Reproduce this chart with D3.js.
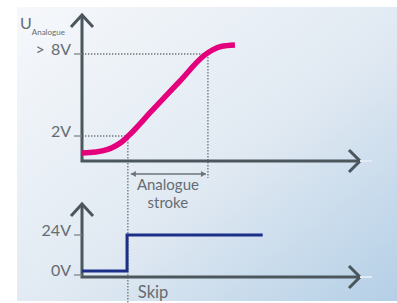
<!DOCTYPE html>
<html>
<head>
<meta charset="utf-8">
<script src="https://cdn.jsdelivr.net/npm/d3@7"></script>
<style>
  html, body { margin: 0; padding: 0; background: #fff; }
  text { font-family: Lato, "Open Sans", sans-serif; fill: #646d72; }
</style>
</head>
<body>
<div id="plot"></div>
<script>
// analogue output (upper plot)
const analogueT = [0, 5, 9, 12, 14.5, 17, 25, 35, 44, 47, 50, 55];
const analogueV = [0.76, 0.83, 1.0, 1.27, 1.6, 2.07, 3.82, 5.97, 7.9, 8.3, 8.55, 8.66];

// switching output (lower plot)
const skipT = [0, 16.2, 65];
const skipV = [0, 24, 24];

// tick labels
const upperTicks = [2, 8];
const upperLabels = ["2V", "> 8V"];
const lowerTicks = [0, 24];
const lowerLabels = ["0V", "24V"];

// where the analogue stroke starts / ends
const strokeStart = 16.5;
const strokeEnd = 45.3;

const width = 397, height = 303;
const axisCol = "#4b565d";

const svg = d3.select("#plot")
  .append("svg")
    .attr("width", width)
    .attr("height", height);

// background panel gradient
const grad = svg.append("defs").append("linearGradient")
    .attr("id", "bg")
    .attr("x1", "0%").attr("y1", "0%")
    .attr("x2", "100%").attr("y2", "100%");
grad.append("stop").attr("offset", "0%").attr("stop-color", "#f6f8fb");
grad.append("stop").attr("offset", "55%").attr("stop-color", "#e0e9f2");
grad.append("stop").attr("offset", "100%").attr("stop-color", "#b4cfe6");

svg.append("rect")
    .attr("x", 17).attr("y", 7)
    .attr("width", width - 17).attr("height", 294)
    .attr("fill", "url(#bg)");

const x = d3.scaleLinear().domain([0, 100]).range([82, 360]);
const yUp = d3.scaleLinear().domain([2, 8]).range([136, 54]);
const yLow = d3.scaleLinear().domain([0, 24]).range([271, 235]);

const upBase = 161, lowBase = 277;
const x0 = x(0), xEnd = x(100);

// dotted guide lines
const dots = svg.append("g")
    .attr("stroke", "#6d757a")
    .attr("stroke-width", 1.3)
    .attr("stroke-dasharray", "1.4,1.6")
    .attr("fill", "none");

dots.append("line")
    .attr("x1", x0).attr("x2", x(strokeStart))
    .attr("y1", yUp(2)).attr("y2", yUp(2));
dots.append("line")
    .attr("x1", x(strokeStart)).attr("x2", x(strokeStart))
    .attr("y1", yUp(2)).attr("y2", 303);
dots.append("line")
    .attr("x1", x0).attr("x2", x(strokeEnd))
    .attr("y1", yUp(8)).attr("y2", yUp(8));
dots.append("line")
    .attr("x1", x(strokeEnd)).attr("x2", x(strokeEnd))
    .attr("y1", yUp(8)).attr("y2", 178);

// axes with arrow heads
function drawAxes(top, base) {
  const g = svg.append("g")
      .attr("fill", "none")
      .attr("stroke", axisCol)
      .attr("stroke-width", 3);
  // faint tail behind the x arrow
  svg.append("line")
      .attr("x1", xEnd).attr("x2", xEnd + 12)
      .attr("y1", base).attr("y2", base)
      .attr("stroke", "#e2eaf1").attr("stroke-width", 2);
  g.append("path")
      .attr("d", "M" + x0 + "," + (top + 1) + "V" + base + "H" + xEnd);
  g.append("path")
      .attr("d", "M" + (x0 - 11) + "," + (top + 12) + "L" + x0 + "," + top + "L" + (x0 + 11) + "," + (top + 12));
  g.append("path")
      .attr("d", "M" + (xEnd - 11) + "," + (base - 11) + "L" + xEnd + "," + base + "L" + (xEnd - 11) + "," + (base + 11));
}
drawAxes(15, upBase);
drawAxes(204, lowBase);

// tick marks + labels
function drawTicks(vals, labels, yPos) {
  vals.forEach(function(v, i) {
    const yy = yPos(v);
    svg.append("line")
        .attr("x1", x0 - 8).attr("x2", x0)
        .attr("y1", yy).attr("y2", yy)
        .attr("stroke", "#7d868b").attr("stroke-width", 1.3);
    svg.append("text")
        .attr("x", x0 - 11).attr("y", yy + 1)
        .attr("text-anchor", "end")
        .style("font-size", "16px")
        .style("word-spacing", "2px")
        .text(labels[i]);
  });
}
drawTicks(upperTicks, upperLabels, yUp);
// the 0V tick sits on the lower axis line
drawTicks(lowerTicks, lowerLabels, function(v) { return v === 0 ? lowBase - 2 : yLow(v); });

// analogue curve
const analogueLine = d3.line()
  .x(function(d) { return x(d[0]); })
  .y(function(d) { return yUp(d[1]); })
  .curve(d3.curveMonotoneX);

svg.append("path")
    .datum(d3.zip(analogueT, analogueV))
    .attr("d", analogueLine)
    .attr("fill", "none")
    .attr("stroke", "#e4007c")
    .attr("stroke-width", 5.5);

// skip step line
const skipLine = d3.line()
  .x(function(d) { return x(d[0]); })
  .y(function(d) { return yLow(d[1]); })
  .curve(d3.curveStepAfter);

svg.append("path")
    .datum(d3.zip(skipT, skipV))
    .attr("d", skipLine)
    .attr("fill", "none")
    .attr("stroke", "#1b2e88")
    .attr("stroke-width", 3);

// analogue stroke range arrow
const ay = 174;
const ax1 = x(strokeStart) + 3, ax2 = x(strokeEnd) - 2;
svg.append("line")
    .attr("x1", ax1).attr("x2", ax2)
    .attr("y1", ay).attr("y2", ay)
    .attr("stroke", "#6d757a").attr("stroke-width", 1.3);
svg.append("path")
    .attr("d", "M" + ax1 + "," + ay + "l5,-3v6z M" + ax2 + "," + ay + "l-5,-3v6z")
    .attr("fill", "#6d757a");

// two-line label as one text element
const mid = (x(strokeStart) + x(strokeEnd)) / 2;
const strokeLabel = svg.append("text")
    .attr("text-anchor", "middle")
    .style("font-size", "15px");
strokeLabel.append("tspan").attr("x", mid).attr("y", 190).text("Analogue");
strokeLabel.append("tspan").attr("x", mid).attr("y", 208).text("stroke");

svg.append("text")
    .attr("x", x(strokeStart) + 10).attr("y", 298)
    .style("font-size", "16.5px")
    .text("Skip");

// y axis title
const title = svg.append("text")
    .attr("x", 20).attr("y", 29)
    .style("font-size", "16px");
title.append("tspan").text("U");
title.append("tspan")
    .attr("dy", 6)
    .style("font-size", "8px")
    .text("Analogue");
</script>
</body>
</html>
